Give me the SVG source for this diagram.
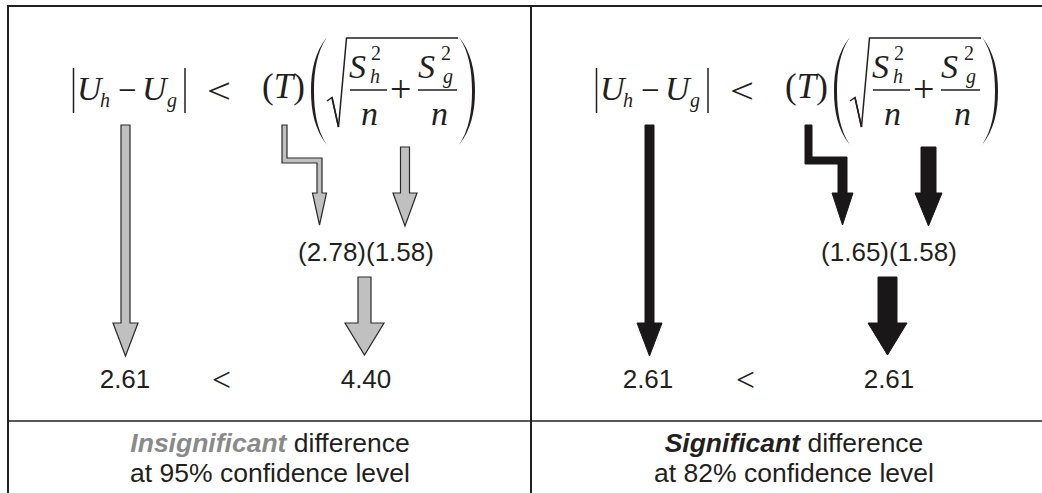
<svg xmlns="http://www.w3.org/2000/svg" width="1042" height="493" viewBox="0 0 1042 493">
<style>
.frame{stroke:#231f20;fill:none}
.m{font-family:"Liberation Serif",serif;font-style:italic;font-size:34px;fill:#231f20}
.mr{font-family:"Liberation Serif",serif;font-style:normal;fill:#231f20}
.sub{font-family:"Liberation Serif",serif;font-style:italic;font-size:20px;fill:#231f20}
.sup{font-family:"Liberation Serif",serif;font-size:20px;fill:#231f20}
.num{font-family:"Liberation Sans",Arial,sans-serif;font-size:26px;fill:#231f20;text-anchor:middle}
.cap{font-family:"Liberation Sans",Arial,sans-serif;font-size:26.5px;fill:#231f20;text-anchor:middle}
.ln{stroke:#231f20;stroke-width:1.5;fill:none}
.gray{fill:#c0c0c0;stroke:#2a2a2a;stroke-width:1.2;stroke-linejoin:miter}
.blk{fill:#1a1718;stroke:#1a1718;stroke-width:1}
.paren{fill:#231f20}
</style>
<defs>
<g id="formula">
<line class="ln" x1="73.5" y1="68" x2="73.5" y2="113"/>
<text class="m" x="77" y="100">U</text>
<text class="sub" x="100" y="107">h</text>
<text class="mr" x="118" y="101" font-size="33">−</text>
<text class="m" x="142" y="100">U</text>
<text class="sub" x="167" y="107">g</text>
<line class="ln" x1="185" y1="68" x2="185" y2="113"/>
<text class="mr" x="207" y="103" font-size="36" textLength="24" lengthAdjust="spacingAndGlyphs">&lt;</text>
<text class="mr" x="262" y="98" font-size="35">(<tspan font-style="italic">T</tspan>)</text>
<path class="paren" d="M327,37 C315,52 311,70 311,91 C311,112 315,130 327,145 C317,130 314,112 314,91 C314,70 317,52 327,37 Z"/>
<path class="paren" d="M459,37 C471,52 475,70 475,91 C475,112 471,130 459,145 C469,130 472,112 472,91 C472,70 469,52 459,37 Z"/>
<path class="ln" d="M327,101 L332,97.5 L338.5,127 L346.5,38 L458,38" stroke-width="1.3"/>
<line class="ln" x1="332" y1="97.5" x2="338.5" y2="127" stroke-width="2.6"/>
<text class="m" x="349" y="78" font-size="32">S</text>
<text class="sup" x="371" y="60">2</text>
<text class="sub" x="370" y="83">h</text>
<line class="ln" x1="350" y1="90" x2="387" y2="90"/>
<text class="m" x="361" y="125">n</text>
<text class="mr" x="390" y="102" font-size="38">+</text>
<text class="m" x="418" y="78" font-size="32">S</text>
<text class="sup" x="441" y="60">2</text>
<text class="sub" x="443" y="83">g</text>
<line class="ln" x1="418" y1="90" x2="457" y2="90"/>
<text class="m" x="431" y="125">n</text>
</g>
</defs>
<rect x="0" y="0" width="1042" height="493" fill="#ffffff"/>
<g id="frame">
<line class="frame" x1="7" y1="6" x2="1042" y2="6" stroke-width="2"/>
<line class="frame" x1="8" y1="5" x2="8" y2="493" stroke-width="2"/>
<line class="frame" x1="531" y1="5" x2="531" y2="493" stroke-width="2"/>
<line class="frame" x1="8" y1="421" x2="1042" y2="421" stroke-width="1.5"/>
</g>
<g id="formula-left"><use href="#formula"/></g>
<g id="formula-right"><use href="#formula" transform="translate(523,0)"/></g>
<g id="values-left">
<text class="num" x="366" y="261">(2.78)(1.58)</text>
<text class="num" x="125" y="388">2.61</text>
<text class="mr" x="212" y="391" font-size="34" textLength="19" lengthAdjust="spacingAndGlyphs">&lt;</text>
<text class="num" x="366" y="388">4.40</text>
</g>
<g id="values-right">
<text class="num" x="889" y="261">(1.65)(1.58)</text>
<text class="num" x="648" y="388">2.61</text>
<text class="mr" x="736" y="391" font-size="34" textLength="19" lengthAdjust="spacingAndGlyphs">&lt;</text>
<text class="num" x="889" y="388">2.61</text>
</g>
<g id="caption-left">
<text class="cap" x="270" y="452"><tspan font-weight="bold" font-style="italic" fill="#8a8a8a">Insignificant</tspan> difference</text>
<text class="cap" x="270" y="482">at 95% confidence level</text>
</g>
<g id="caption-right">
<text class="cap" x="794" y="452"><tspan font-weight="bold" font-style="italic">Significant</tspan> difference</text>
<text class="cap" x="794" y="482">at 82% confidence level</text>
</g>
<g id="connectors">
<polygon class="gray" points="121,125 130,125 130,323 138,323 125.5,356 113,323 121,323"/>
<polygon class="gray" points="282,125 287,125 287,158 322,158 322,193 326.5,193 319.5,225 312.5,193 317,193 317,163 282,163"/>
<polygon class="gray" points="400.5,147 409.5,147 409.5,193 417,193 405,226 393,193 400.5,193"/>
<polygon class="gray" points="358,277 371,277 371,323 384,323 364.5,355 345,323 358,323"/>
<polygon class="blk" points="645,125 654,125 654,323 662,323 649.5,356 637,323 645,323"/>
<polygon class="blk" points="805,125 812,125 812,157 847,157 847,193 853,193 842.5,225 832,193 838,193 838,164 805,164"/>
<polygon class="blk" points="921,147 936,147 936,193 942,193 928.5,226 915,193 921,193"/>
<polygon class="blk" points="878,277 897,277 897,323 907,323 887.5,355 868,323 878,323"/>
</g>
</svg>
